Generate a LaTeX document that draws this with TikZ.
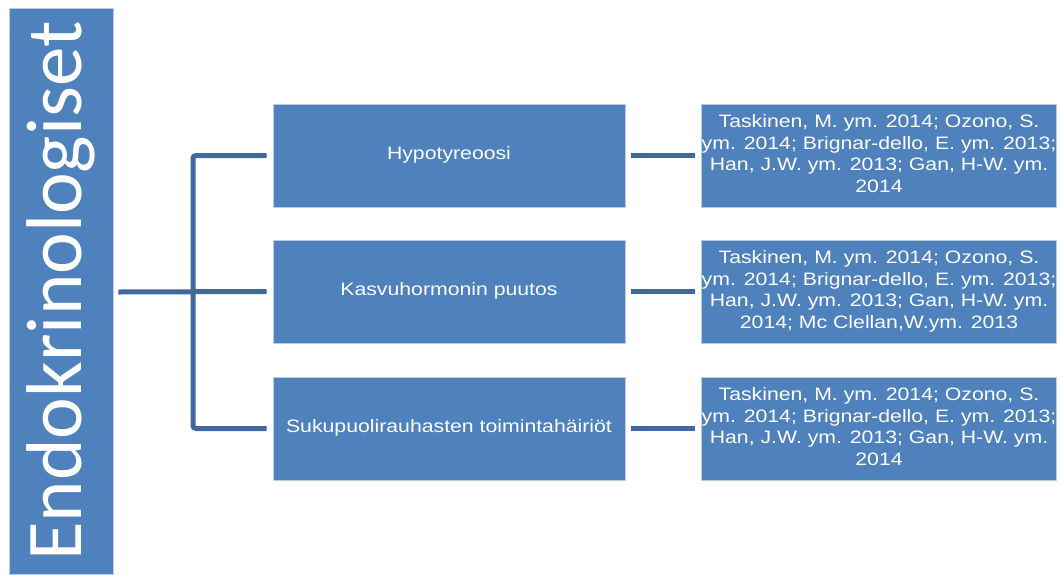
\documentclass[tikz,border=0pt]{standalone}
\usepackage{graphicx}
\usepackage{fontspec}
\setmainfont{Liberation Sans}
\newfontfamily\titlefont{Carlito}
\definecolor{boxblue}{HTML}{4F81BD}
\definecolor{linkblue}{HTML}{41699B}
\definecolor{edgeblue}{HTML}{B9CDE5}
% box labels are set a little wide
\newcommand\widetext[1]{\scalebox{1.18}[1]{\begin{tabular}{@{}c@{}}#1\end{tabular}}}
\begin{document}
\begin{tikzpicture}[x=1pt,y=-1pt,
  box/.style={rectangle, fill=boxblue, draw=edgeblue, line width=0.8pt,
    minimum width=352pt, minimum height=103pt, inner sep=0pt,
    text=white, font=\fontsize{18}{21.6}\selectfont},
  link/.style={draw=linkblue, line width=5pt, rounded corners=3pt}]
\useasboundingbox (0,0) rectangle (1060,574);

% tall title bar on the left
\node[rectangle, fill=boxblue, draw=edgeblue, line width=0.8pt,
  minimum width=566pt, minimum height=104pt, inner sep=0pt,
  rotate=90, text=white, font=\titlefont\fontsize{79}{79}\selectfont]
  (root) at (61,291) {Endokrinologiset};

% middle column
\node[box] (m1) at (449,155.5) {\widetext{Hypotyreoosi}};
\node[box] (m2) at (449,291.5) {\widetext{Kasvuhormonin puutos}};
\node[box] (m3) at (449,428.5) {\widetext{Sukupuolirauhasten toimintahäiriöt}};

% reference column
\node[box] (r1) at (879,155.5) {\widetext{Taskinen, M. ym. 2014; Ozono, S.\\ ym. 2014; Brignar-dello, E. ym. 2013;\\ Han, J.W. ym. 2013; Gan, H-W. ym.\\ 2014}};
\node[box] (r2) at (879,291.5) {\widetext{Taskinen, M. ym. 2014; Ozono, S.\\ ym. 2014; Brignar-dello, E. ym. 2013;\\ Han, J.W. ym. 2013; Gan, H-W. ym.\\ 2014; Mc Clellan,W.ym. 2013}};
\node[box] (r3) at (879,428.5) {\widetext{Taskinen, M. ym. 2014; Ozono, S.\\ ym. 2014; Brignar-dello, E. ym. 2013;\\ Han, J.W. ym. 2013; Gan, H-W. ym.\\ 2014}};

% tree connectors
\coordinate (fork) at (193,292);
\draw[link] ([xshift=5pt]root.south |- fork) -- ([xshift=-6pt]m2.west);
\draw[link] ([xshift=-6pt]m1.west) -- (fork |- m1.west) -- (fork |- m3.west) -- ([xshift=-6pt]m3.west);
\draw[link] ([xshift=6pt]m1.east) -- ([xshift=-6pt]r1.west);
\draw[link] ([xshift=6pt]m2.east) -- ([xshift=-6pt]r2.west);
\draw[link] ([xshift=6pt]m3.east) -- ([xshift=-6pt]r3.west);
\end{tikzpicture}
\end{document}
